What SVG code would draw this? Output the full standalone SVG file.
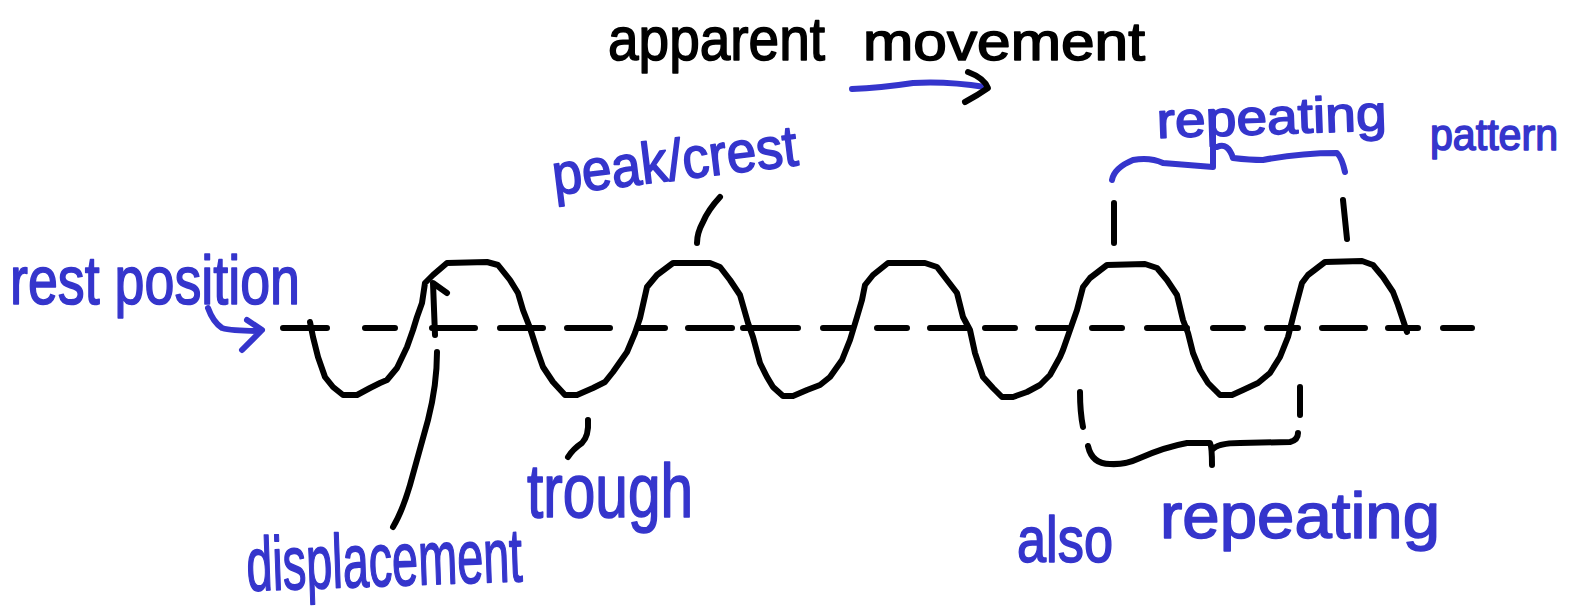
<svg xmlns="http://www.w3.org/2000/svg" width="1571" height="616" viewBox="0 0 1571 616">
<style>
.ink{fill:none;stroke:#000;stroke-width:6;stroke-linecap:round;stroke-linejoin:round}
.blue{fill:none;stroke:#3535CC;stroke-width:6;stroke-linecap:round;stroke-linejoin:round}
.t{font-family:"Liberation Sans","DejaVu Sans",sans-serif;stroke-width:1.6;stroke-linejoin:round}
.tb{fill:#3535CC;stroke:#3535CC}
.tk{fill:#000;stroke:#000}
</style>
<rect width="1571" height="616" fill="#fff"/>
<g id="rest-line">
<path class="ink" d="M283 328H327M365 328H395M432 328H475M500 328H543M567 328H610M638 328H665M688 328H732M743 328H798M823 328H852M877 328H907M930 328H967M985 328H1015M1038 328H1068M1092 328H1122M1147 328H1187M1213 328H1243M1267 328H1298M1322 328H1365M1388 328H1418M1443 328H1472"/>
</g>
<g id="wave">
<path class="ink" d="M310,322 L313,337 L318,357 L325,377 L333,387 L343,395 L357,395 L370,388 L380,383 L387,380 L397,368 L407,347 L413,330 L417,317 L422,303 L425,283 L433,275 L447,263 L487,262 L498,265 L510,280 L518,293 L523,310 L530,328 L537,350 L543,367 L553,382 L565,395 L577,395 L593,388 L605,382 L613,372 L627,352 L635,333 L640,318 L647,287 L657,275 L673,263 L710,263 L720,267 L730,280 L740,295 L748,323 L753,337 L760,363 L767,377 L773,387 L783,396 L793,396 L807,390 L820,385 L830,377 L842,360 L850,340 L857,317 L862,300 L865,285 L873,275 L888,263 L925,263 L937,267 L947,280 L957,293 L963,317 L970,330 L975,353 L983,377 L993,388 L1002,397 L1013,397 L1027,392 L1040,385 L1050,375 L1060,357 L1063,350 L1070,330 L1077,310 L1083,287 L1090,278 L1107,265 L1145,264 L1157,268 L1167,280 L1177,295 L1183,320 L1188,333 L1193,353 L1200,370 L1208,383 L1220,395 L1232,395 L1243,390 L1258,383 L1270,373 L1280,357 L1288,337 L1293,317 L1298,298 L1302,283 L1308,275 L1325,262 L1362,261 L1373,265 L1383,277 L1393,292 L1398,305 L1407,332"/>
</g>
<g id="connectors">
<path class="blue" d="M852,89 Q880,88 913,83 Q947,81 985,87"/>
<path class="ink" d="M968,72 Q984,78 988,88 Q978,95 965,102"/>
<path class="blue" d="M208,308 Q213,322 222,328 Q232,331 260,331 M247,320 L262,330 L242,350"/>
<path class="ink" d="M435,335 L433,283 L447,293"/>
<path class="ink" d="M437,352 Q437,385 428,420 L410,485 Q402,512 393,527"/>
<path class="ink" d="M720,197 Q708,210 703,222 Q697,233 697,243"/>
<path class="ink" d="M588,420 Q589,436 582,443 Q573,449 568,457"/>
<path class="ink" d="M1114,203 V243 M1343,200 L1347,239"/>
<path class="blue" d="M1112,180 Q1114,168 1133,160 Q1150,157 1163,163 L1213,167 M1213,167 L1213,112 M1217,147 Q1228,142 1233,158 Q1250,160 1263,160 Q1300,153 1337,153 Q1342,158 1345,172"/>
<path class="ink" d="M1080,392 Q1080,412 1083,427 M1300,387 V415"/>
<path class="ink" d="M1088,446 Q1092,464 1110,464 Q1125,465 1140,458 Q1165,447 1187,443 L1210,443 Q1212,447 1212,465 M1212,450 Q1217,443 1240,443 L1290,442 Q1298,440 1298,433"/>
</g>
<g id="label-apparent-movement">
<text class="t tk" x="608" y="60" font-size="62" textLength="217" lengthAdjust="spacingAndGlyphs">apparent</text>
<text class="t tk" x="863" y="60" font-size="54" textLength="282" lengthAdjust="spacingAndGlyphs">movement</text>
</g>
<g id="label-peak-crest">
<text class="t tb" x="553" y="180" font-size="58" textLength="247" lengthAdjust="spacingAndGlyphs" transform="rotate(-7 676 176)">peak/crest</text>
</g>
<g id="label-rest-position">
<text class="t tb" x="10" y="304" font-size="68" textLength="290" lengthAdjust="spacingAndGlyphs">rest position</text>
</g>
<g id="label-trough">
<text class="t tb" x="527" y="517" font-size="76" textLength="166" lengthAdjust="spacingAndGlyphs">trough</text>
</g>
<g id="label-displacement">
<text class="t tb" x="247" y="586" font-size="76" textLength="276" lengthAdjust="spacingAndGlyphs" transform="rotate(-2 385 584)">displacement</text>
</g>
<g id="label-repeating-pattern">
<text class="t tb" x="1157" y="134" font-size="50" textLength="230" lengthAdjust="spacingAndGlyphs" transform="rotate(-2 1272 130)">repeating</text>
<text class="t tb" x="1430" y="150" font-size="44" textLength="128" lengthAdjust="spacingAndGlyphs">pattern</text>
</g>
<g id="label-also-repeating">
<text class="t tb" x="1017" y="562" font-size="64" textLength="96" lengthAdjust="spacingAndGlyphs">also</text>
<text class="t tb" x="1160" y="538" font-size="64" textLength="280" lengthAdjust="spacingAndGlyphs">repeating</text>
</g>
</svg>
